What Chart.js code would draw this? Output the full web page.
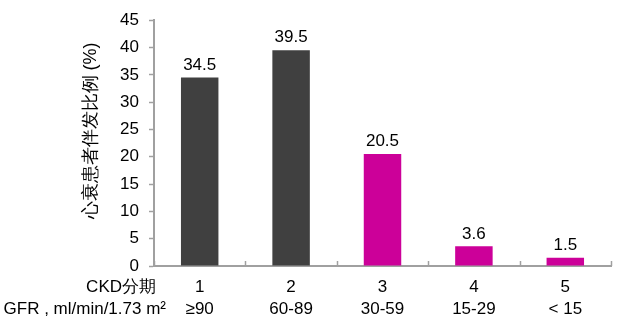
<!DOCTYPE html>
<html>
<head>
<meta charset="utf-8">
<script src="https://cdn.jsdelivr.net/npm/chart.js@4"></script>
<style>
  body { margin: 0; background: #fff; }
  #wrap { width: 635px; height: 326px; }
</style>
</head>
<body>
<div id="wrap"><canvas id="ckd"></canvas></div>
<script>
const stages = ['1', '2', '3', '4', '5'];
const gfrRanges = ['≥90', '60-89', '30-59', '15-29', '< 15'];
const percents = [34.5, 39.5, 20.5, 3.6, 1.5];
const barColors = ['#404040', '#404040', '#cc0099', '#cc0099', '#cc0099'];

const FONT = '"Liberation Sans", Arial, sans-serif';
const AXIS = '#a0a0a0';

// value labels, axis titles, inward category ticks
const extras = {
    id: 'extras',
    afterDatasetsDraw(chart) {
        const c = chart.ctx;
        const x = chart.scales.x, y = chart.scales.y;
        c.save();
        c.fillStyle = '#000';
        c.font = '17px ' + FONT;
        c.textAlign = 'center';
        c.textBaseline = 'bottom';
        chart.getDatasetMeta(0).data.forEach((bar, i) => {
            c.fillText(String(percents[i]), bar.x, bar.y - 4);
        });

        // category boundary ticks pointing up
        c.strokeStyle = AXIS;
        c.lineWidth = 1.5;
        for (let i = 0; i <= stages.length; i++) {
            const px = Math.round(x.getPixelForValue(i - 0.5)) + 0.5;
            c.beginPath();
            c.moveTo(px, y.bottom);
            c.lineTo(px, y.bottom - 5);
            c.stroke();
        }

        // row titles left of the x labels
        c.textAlign = 'right';
        c.textBaseline = 'middle';
        c.font = '17px ' + FONT;
        c.fillText('CKD分期', 156, 287);
        c.fillText('GFR , ml/min/1.73 m²', 166, 309);

        // y axis title
        c.translate(91, 131);
        c.rotate(-Math.PI / 2);
        c.textAlign = 'center';
        c.font = '18px ' + FONT;
        c.fillText('心衰患者伴发比例 (%)', 0, 0);
        c.restore();
    }
};

new Chart(document.getElementById('ckd').getContext('2d'), {
    type: 'bar',
    data: {
        labels: stages.map((s, i) => [s, gfrRanges[i]]),
        datasets: [{
            data: percents,
            backgroundColor: barColors,
            categoryPercentage: 1,
            barPercentage: 0.41
        }]
    },
    options: {
        responsive: true,
        maintainAspectRatio: false,
        animation: false,
        layout: { padding: { top: 20, right: 24, left: 0, bottom: 0 } },
        scales: {
            y: {
                min: 0,
                max: 45,
                afterFit(scale) { scale.width = 154; },
                ticks: {
                    stepSize: 5,
                    color: '#000',
                    padding: 10,
                    font: { family: FONT, size: 17 }
                },
                grid: {
                    drawOnChartArea: false,
                    drawTicks: true,
                    tickLength: 5,
                    tickColor: AXIS,
                    tickWidth: 1.5
                },
                border: { color: AXIS, width: 2 }
            },
            x: {
                afterFit(scale) { scale.height = 60; },
                ticks: {
                    color: '#000',
                    padding: 10,
                    font: { family: FONT, size: 17, lineHeight: 1.3 }
                },
                grid: { display: false, drawTicks: false },
                border: { color: AXIS, width: 2 }
            }
        },
        plugins: {
            legend: { display: false },
            tooltip: { enabled: false }
        }
    },
    plugins: [extras]
});
</script>
</body>
</html>
